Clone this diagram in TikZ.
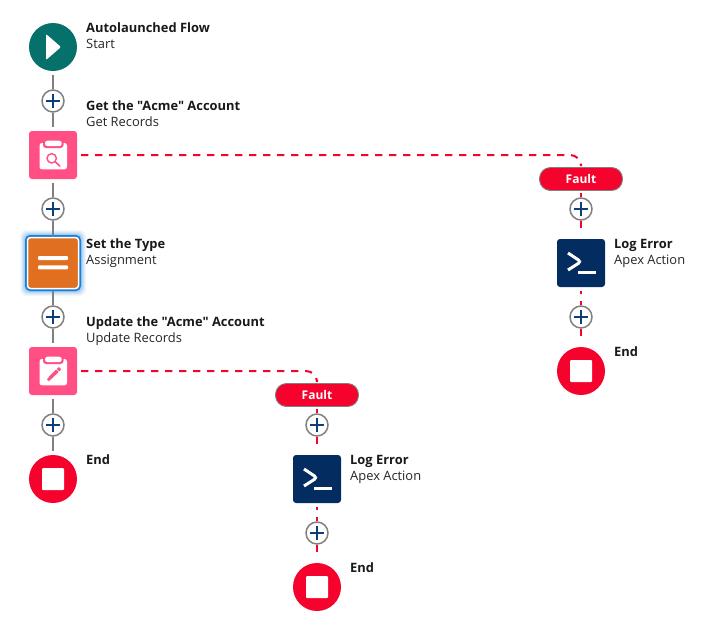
\documentclass[tikz,border=0pt]{standalone}
\usepackage{fontspec}
\setmainfont{Open Sans}[Ligatures=TeXOff]
\usepackage{xcolor}
\definecolor{flowteal}{HTML}{06706A}
\definecolor{flowpink}{HTML}{FF4F85}
\definecolor{floworange}{HTML}{E06F1F}
\definecolor{flowred}{HTML}{F5032C}
\definecolor{flownavy}{HTML}{032D60}
\definecolor{flowblue}{HTML}{0B3F7C}
\definecolor{flowgrey}{HTML}{808080}
\definecolor{flowglow}{HTML}{1B7FD6}
\tikzset{
	iconbox/.style={minimum size=48pt,inner sep=0pt,outer sep=4pt},
	startnode/.style={iconbox,circle,fill=flowteal,path picture={
		\fill[white,rounded corners=1pt,shift={(path picture bounding box.center)}] (-7,-13) -- (8,0) -- (-7,13) -- cycle;}},
	endnode/.style={iconbox,circle,fill=flowred,path picture={
		\fill[white,rounded corners=1pt,shift={(path picture bounding box.center)}] (-11,-11) rectangle (11,11);}},
	getnode/.style={iconbox,rectangle,rounded corners=3pt,fill=flowpink,path picture={
		\begin{scope}[shift={(path picture bounding box.center)}]
			\fill[white,rounded corners=2.5pt] (-13.5,-12) rectangle (14,14.3);
			\fill[flowpink,rounded corners=3pt] (-10,-16) rectangle (10.5,-7);
			\fill[white,rounded corners=2.5pt] (-8,-14.3) rectangle (8.7,-8.8);
			\draw[flowpink,line width=1.4pt] (-1.3,3.3) circle (4.7);
			\draw[flowpink,line width=1.6pt,line cap=round] (2.2,6.8) -- (6.8,11);
		\end{scope}}},
	updatenode/.style={iconbox,rectangle,rounded corners=3pt,fill=flowpink,path picture={
		\begin{scope}[shift={(path picture bounding box.center)}]
			\fill[white,rounded corners=2.5pt] (-13.5,-12) rectangle (14,14.3);
			\fill[flowpink,rounded corners=3pt] (-10,-16) rectangle (10.5,-7);
			\fill[white,rounded corners=2.5pt] (-8,-14.3) rectangle (8.7,-8.8);
			\draw[flowpink,line width=3.4pt] (-3.5,7.5) -- (7,-2.8);
			\fill[flowpink] (-6.3,10.7) -- (-5.3,5.3) -- (-1.3,9.3) -- cycle;
			\draw[white,line width=0.6pt] (2.5,-2.8) -- (6.5,1.2);
		\end{scope}}},
	setnode/.style={iconbox,rectangle,rounded corners=3pt,fill=floworange,draw=white,line width=1.5pt,minimum size=51pt,outer sep=2pt,path picture={
		\begin{scope}[shift={(path picture bounding box.center)}]
			\fill[white,rounded corners=1pt] (-15,-7) rectangle (15,-3);
			\fill[white,rounded corners=1pt] (-15,2.3) rectangle (15,6.3);
		\end{scope}}},
	lognode/.style={iconbox,rectangle,rounded corners=3pt,fill=flownavy,path picture={
		\begin{scope}[shift={(path picture bounding box.center)}]
			\draw[white,line width=3pt] (-13,-10) -- (0,-1.3) -- (-13,7);
			\draw[white,line width=3pt] (-2.7,9.7) -- (15,9.7);
		\end{scope}}},
	plusnode/.style={circle,draw=flowgrey,line width=1.5pt,fill=white,minimum size=22pt,inner sep=0pt,path picture={
		\begin{scope}[shift={(path picture bounding box.center)}]
			\draw[flowblue,line width=1.4pt] (-7,0) -- (7,0);
			\draw[flowblue,line width=1.4pt] (0,-7) -- (0,7);
		\end{scope}}},
	faultnode/.style={rounded corners=11pt,draw=flowgrey,line width=0.9pt,fill=flowred,text=white,font=\fontsize{12}{14}\selectfont\bfseries,text height=9.5pt,text depth=0pt,minimum width=83pt,minimum height=23pt,inner sep=0pt,outer sep=2.5pt},
	titletext/.style={anchor=base west,inner sep=0pt,text=black!90,font=\fontsize{12.9}{15}\selectfont\bfseries},
	subtext/.style={anchor=base west,inner sep=0pt,text=black!85,font=\fontsize{12.9}{15}\selectfont},
	flowline/.style={flowgrey,line width=2pt},
	faultline/.style={flowred,line width=2pt,dash pattern=on 7.3pt off 6.7pt,rounded corners=11pt,shorten >=-1.5pt},
	faultdrop/.style={flowred,line width=1.8pt},
	faultdot/.style={faultdrop,dash pattern=on 3pt off 7pt on 20pt}
}
\begin{document}
\begin{tikzpicture}[x=1pt,y=-1pt]
	\useasboundingbox (0,0) rectangle (715,635);

	% Selection glow
	\foreach \glowgrow/\glowop in {8/0.05,7/0.07,6/0.09,5/0.12,4/0.15,3/0.18}{
		\fill[flowglow,opacity=\glowop,rounded corners=6pt] (53-25-\glowgrow,263-25-\glowgrow) rectangle (53+25+\glowgrow,263+25+\glowgrow);
	}
	\fill[flowglow,rounded corners=5pt] (25,235) rectangle (81,291);

	% Main path
	\node[startnode] (start) at (53,47) {};
	\node[plusnode] (plusa) at (53,101) {};
	\node[getnode] (get) at (53,155) {};
	\node[plusnode] (plusb) at (53,209) {};
	\node[setnode] (set) at (53,263) {};
	\node[plusnode] (plusc) at (53,317) {};
	\node[updatenode] (update) at (53,371) {};
	\node[plusnode] (plusd) at (53,425) {};
	\node[endnode] (endmain) at (53,479) {};

	% Fault of Get Records
	\node[faultnode] (faulta) at (581,179) {Fault};
	\node[plusnode] (pluse) at (581,209) {};
	\node[lognode] (loga) at (581,263) {};
	\node[plusnode] (plusf) at (581,317) {};
	\node[endnode] (enda) at (581,371) {};

	% Fault of Update Records
	\node[faultnode] (faultb) at (317,395) {Fault};
	\node[plusnode] (plusg) at (317,425) {};
	\node[lognode] (logb) at (317,479) {};
	\node[plusnode] (plush) at (317,533) {};
	\node[endnode] (endb) at (317,587) {};

	% Labels
	\node[titletext] (starttitle) at (86,32) {Autolaunched Flow};
	\node[subtext] (startsub) at (86,48) {Start};
	\node[titletext] (gettitle) at (86,110) {Get the "Acme" Account};
	\node[subtext] (getsub) at (86,126) {Get Records};
	\node[titletext] (settitle) at (86,248) {Set the Type};
	\node[subtext] (setsub) at (86,264) {Assignment};
	\node[titletext] (updatetitle) at (86,326) {Update the "Acme" Account};
	\node[subtext] (updatesub) at (86,342) {Update Records};
	\node[titletext] (endmaintitle) at (86,464) {End};
	\node[titletext] (logatitle) at (614,248) {Log Error};
	\node[subtext] (logasub) at (614,264) {Apex Action};
	\node[titletext] (endatitle) at (614,356) {End};
	\node[titletext] (logbtitle) at (350,464) {Log Error};
	\node[subtext] (logbsub) at (350,480) {Apex Action};
	\node[titletext] (endbtitle) at (350,572) {End};

	% Connectors
	\draw[flowline] (start) -- (plusa);
	\draw[flowline] (plusa) -- (get);
	\draw[flowline] (get) -- (plusb);
	\draw[flowline] (plusb) -- (set);
	\draw[flowline] (set) -- (plusc);
	\draw[flowline] (plusc) -- (update);
	\draw[flowline] (update) -- (plusd);
	\draw[flowline] (plusd) -- (endmain);

	% Fault connectors
	\draw[faultline] (get.east) -- (faulta.north |- get.east) -- (faulta.north);
	\draw[faultline] (update.east) -- (faultb.north |- update.east) -- (faultb.north);
	\draw[faultdrop] (faulta) -- (pluse);
	\draw[faultdrop,shorten >=7pt] (pluse) -- (loga);
	\draw[faultdot] (loga) -- (plusf);
	\draw[faultdrop,shorten >=7pt] (plusf) -- (enda);
	\draw[faultdrop] (faultb) -- (plusg);
	\draw[faultdrop,shorten >=7pt] (plusg) -- (logb);
	\draw[faultdot] (logb) -- (plush);
	\draw[faultdrop,shorten >=7pt] (plush) -- (endb);
\end{tikzpicture}
\end{document}
